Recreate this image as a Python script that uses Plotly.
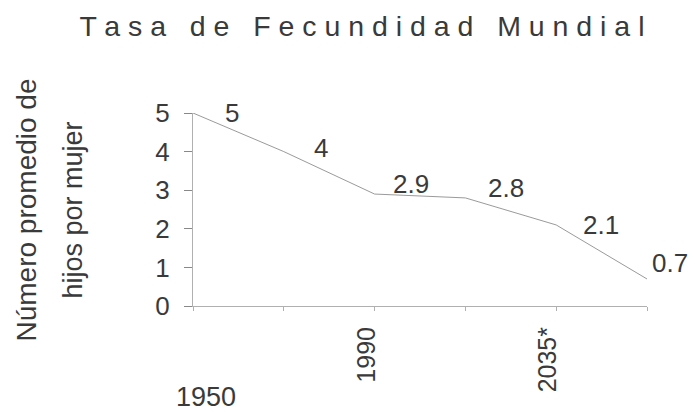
import plotly.graph_objects as go

# Data
categories = ["1950", "", "1990", "", "2035*", ""]
fertility = [5, 4, 2.9, 2.8, 2.1, 0.7]
value_labels = ["5", "4", "2.9", "2.8", "2.1", "0.7"]
y_ticks = [0, 1, 2, 3, 4, 5]

title_text = "Tasa de Fecundidad Mundial"
ytitle_lines = ["Número promedio de", "hijos por mujer"]

# label offsets in px (style only)
label_dx = [39, 37, 36, 41, 45, 23]
label_dy = [0, 4, 10, 10, 0, 16]

FONT = "Liberation Sans, Arial, sans-serif"
TXT = "#3a3a3a"
AX = "#b0b0b0"

xidx = list(range(len(categories)))

fig = go.Figure()
fig.add_trace(go.Scatter(
    x=xidx, y=fertility, mode="lines",
    line=dict(color="#9a9a9a", width=1),
    hoverinfo="skip", cliponaxis=False, showlegend=False,
))

for i, (v, t) in enumerate(zip(fertility, value_labels)):
    fig.add_annotation(x=xidx[i], y=v, text=t, showarrow=False,
                       xanchor="center", yanchor="middle",
                       xshift=label_dx[i], yshift=label_dy[i],
                       font=dict(family=FONT, size=26, color=TXT))

# first category label, horizontal below the axis
fig.add_annotation(x=0, y=0, yref="paper", text=categories[0], showarrow=False,
                   xanchor="center", yanchor="middle",
                   xshift=13, yshift=-91,
                   font=dict(family=FONT, size=27, color=TXT))

# y axis title as two rotated lines
fig.add_annotation(x=0, xref="paper", y=0.5, yref="paper", text=ytitle_lines[0],
                   showarrow=False, textangle=-90, xanchor="center", yanchor="middle",
                   xshift=-167, yshift=-1,
                   font=dict(family=FONT, size=28, color=TXT))
fig.add_annotation(x=0, xref="paper", y=0.5, yref="paper", text=ytitle_lines[1],
                   showarrow=False, textangle=-90, xanchor="center", yanchor="middle",
                   xshift=-121, yshift=-1,
                   font=dict(family=FONT, size=27, color=TXT))

spaced_title = "\u00a0\u00a0\u00a0".join(" ".join(w) for w in title_text.split(" "))

tick_text = [c if i > 0 else "" for i, c in enumerate(categories)]

fig.update_layout(
    width=684, height=404,
    margin=dict(l=185, r=45, t=105, b=106),
    paper_bgcolor="white", plot_bgcolor="white",
    title=dict(text=spaced_title, x=0.5175, xanchor="center", y=1 - 18 / 404, yanchor="middle",
               font=dict(family=FONT, size=28.5, color=TXT)),
    xaxis=dict(range=[0, len(categories) - 1], tickmode="array",
               tickvals=xidx, ticktext=tick_text,
               tickangle=-90, showgrid=False, zeroline=False,
               showline=True, linecolor=AX, linewidth=1,
               ticks="outside", ticklen=4, tickcolor=AX,
               ticklabelstandoff=6, ticklabelshift=-8,
               tickfont=dict(family=FONT, size=25, color=TXT)),
    yaxis=dict(range=[0, 5], tickvals=y_ticks, showgrid=False, zeroline=False,
               showline=True, linecolor=AX, linewidth=1,
               ticks="outside", ticklen=8, tickcolor="#888",
               ticklabelstandoff=9,
               tickfont=dict(family=FONT, size=26, color=TXT)),
)

fig.write_html("out.html")
